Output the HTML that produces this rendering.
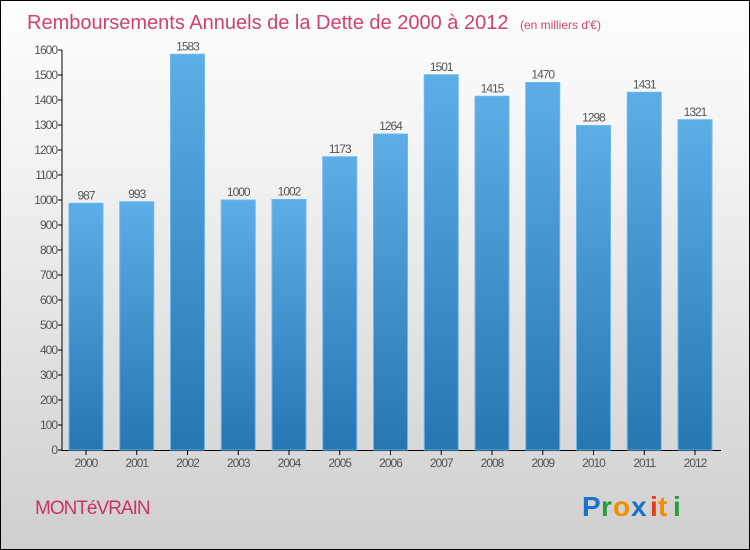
<!DOCTYPE html>
<html><head><meta charset="utf-8"><style>
body{margin:0}
#c{width:750px;height:550px;position:relative;overflow:hidden;box-sizing:border-box;border:1px solid #000;background:linear-gradient(#ffffff,#f2f2f2 30%,#cfcfcf);font-family:"Liberation Sans",sans-serif}
</style></head><body>
<div id="c">
<svg width="750" height="550" style="position:absolute;left:-1px;top:-1px">
<defs><linearGradient id="bg" x1="0" y1="0" x2="0" y2="1"><stop offset="0" stop-color="#5dade6"/><stop offset="1" stop-color="#2676b2"/></linearGradient></defs>
<text x="27" y="29" font-size="20" fill="#d04070">Remboursements Annuels de la Dette de 2000 à 2012 <tspan font-size="12" dx="6">(en milliers d'€)</tspan></text>
<g id="plot"></g>
<text x="35" y="514" font-size="19" fill="#cc3366" letter-spacing="-1">MONTéVRAIN</text>
<g font-size="28" font-weight="bold" font-family="Liberation Sans,sans-serif">
<text x="582" y="516" fill="#1a73c9">P</text><text x="601" y="516" fill="#2a9d3a">r</text><text x="613" y="516" fill="#f28c00">o</text><text x="631" y="516" fill="#1a73c9">x</text><text x="650" y="516" fill="#e53b1e">i</text><text x="658" y="516" fill="#f28c00">t</text><text x="673" y="516" fill="#2a9d3a">i</text></g>
</svg>
</div>
<script>
const years=["2000","2001","2002","2003","2004","2005","2006","2007","2008","2009","2010","2011","2012"];
const values=[987,993,1583,1000,1002,1173,1264,1501,1415,1470,1298,1431,1321];
const ticks=[0,100,200,300,400,500,600,700,800,900,1000,1100,1200,1300,1400,1500,1600];
const NS="http://www.w3.org/2000/svg";
const g=document.getElementById('plot');
const y=v=>450-v*0.25, x=i=>86+i*50.75;
function el(t,a){const e=document.createElementNS(NS,t);for(const k in a)e.setAttribute(k,a[k]);g.appendChild(e);return e;}
let ax=el('line',{x1:62,y1:50,x2:62,y2:451,stroke:'#000'});

let bx=el('line',{x1:62,y1:450.5,x2:721,y2:450.5,stroke:'#000'});

ticks.forEach(t=>{
 el('line',{x1:58,x2:62,y1:y(t),y2:y(t),stroke:'#000'});
 const tx=el('text',{x:57,y:y(t)+4,'font-size':12,'text-anchor':'end',fill:'#555','letter-spacing':'-1'});
 tx.textContent=t;
 
 
});
years.forEach((yr,i)=>{
 const r=el('rect',{x:x(i)-17,y:y(values[i]),width:34,height:450-y(values[i]),fill:'url(#bg)',stroke:'#6cb8ec','stroke-width':1});
 
 
 const v=el('text',{x:x(i),y:y(values[i])-4,'font-size':12,'text-anchor':'middle',fill:'#555','letter-spacing':'-1'});
 v.textContent=values[i];
 
 
 el('line',{x1:x(i),x2:x(i),y1:450,y2:455,stroke:'#000'});
 const l=el('text',{x:x(i),y:467,'font-size':12,'text-anchor':'middle',fill:'#555','letter-spacing':'-1'});
 l.textContent=yr;
 
 
});
</script>
</body></html>
